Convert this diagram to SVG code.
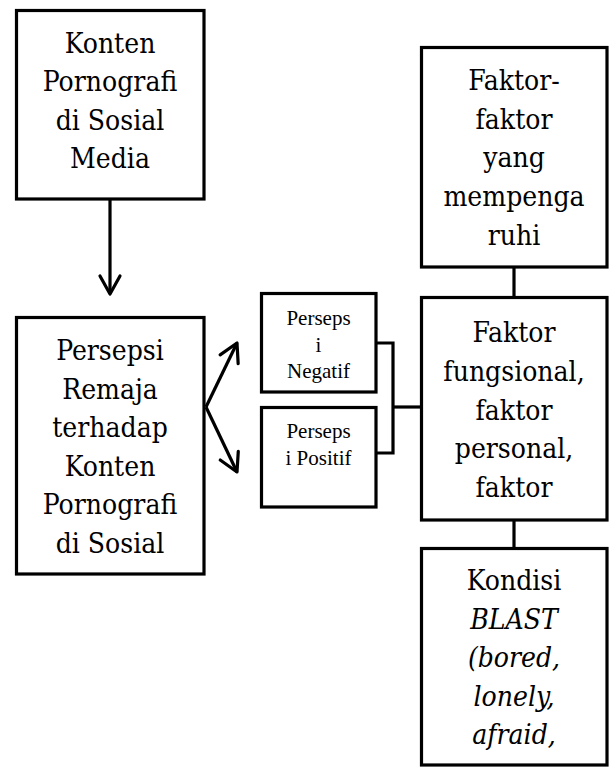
<svg xmlns="http://www.w3.org/2000/svg" width="611" height="767" viewBox="0 0 611 767">
<style>
.box{fill:#fff;stroke:#000;stroke-width:3.2}
.big{font-family:'DejaVu Serif Condensed','DejaVu Serif','Liberation Serif',serif;font-stretch:condensed;font-size:28px;fill:#000;text-anchor:middle}
.sm{font-family:'Liberation Serif',serif;font-size:21px;fill:#000;text-anchor:middle}
.it{font-style:italic}
.c{fill:none;stroke:#000;stroke-width:3.2}
</style>
<defs>
<marker id="ah" markerUnits="userSpaceOnUse" markerWidth="40" markerHeight="40" viewBox="-25 -20 40 40" refX="0" refY="0" orient="auto" overflow="visible">
<path d="M-18,-10 L0,0 L-18,10" fill="none" stroke="#000" stroke-width="3.2" stroke-linejoin="round" stroke-linecap="round"/>
</marker>
</defs>
<rect width="611" height="767" fill="#fff"/>
<g id="connectors">
<line class="c" x1="110" y1="199" x2="110" y2="294" marker-end="url(#ah)"/>
<line class="c" x1="206" y1="407" x2="237" y2="343" marker-end="url(#ah)"/>
<line class="c" x1="206" y1="407" x2="237" y2="472" marker-end="url(#ah)"/>
<path class="c" d="M376,343 H393 V453 H376"/>
<path class="c" d="M393,407 H421"/>
<path class="c" d="M514,267 V297"/>
<path class="c" d="M514,520 V548"/>
</g>
<g id="konten">
<rect class="box" x="16.5" y="10.5" width="187.5" height="188.5"/>
<text class="big" x="110" y="52.5">Konten</text>
<text class="big" x="110" y="91">Pornografi</text>
<text class="big" x="110" y="129.5">di Sosial</text>
<text class="big" x="110" y="168">Media</text>
</g>
<g id="persepsi">
<rect class="box" x="16.5" y="317.5" width="187.5" height="256.5"/>
<text class="big" x="110" y="360">Persepsi</text>
<text class="big" x="110" y="398.5">Remaja</text>
<text class="big" x="110" y="437">terhadap</text>
<text class="big" x="110" y="475.5">Konten</text>
<text class="big" x="110" y="514">Pornografi</text>
<text class="big" x="110" y="552.5">di Sosial</text>
</g>
<g id="negatif">
<rect class="box" x="261.5" y="293.5" width="114.5" height="98.5"/>
<text class="sm" x="318.5" y="325">Perseps</text>
<text class="sm" x="318.5" y="351.5">i</text>
<text class="sm" x="318.5" y="378">Negatif</text>
</g>
<g id="positif">
<rect class="box" x="261.5" y="407.5" width="114.5" height="99.5"/>
<text class="sm" x="318.5" y="438">Perseps</text>
<text class="sm" x="318.5" y="464.5">i Positif</text>
</g>
<g id="faktor-faktor">
<rect class="box" x="421.5" y="47.5" width="185.5" height="219.5"/>
<text class="big" x="514" y="90">Faktor-</text>
<text class="big" x="514" y="128.5">faktor</text>
<text class="big" x="514" y="167">yang</text>
<text class="big" x="514" y="205.5">mempenga</text>
<text class="big" x="514" y="244.5">ruhi</text>
</g>
<g id="faktor-fungsional">
<rect class="box" x="421.5" y="297.5" width="185.5" height="222.5"/>
<text class="big" x="514" y="342">Faktor</text>
<text class="big" x="514" y="381">fungsional,</text>
<text class="big" x="514" y="419.5">faktor</text>
<text class="big" x="514" y="458">personal,</text>
<text class="big" x="514" y="496.5">faktor</text>
</g>
<g id="kondisi">
<rect class="box" x="421.5" y="548.5" width="185.5" height="216.5"/>
<text class="big" x="514" y="590">Kondisi</text>
<text class="big it" x="514" y="628.5">BLAST</text>
<text class="big it" x="514" y="667">(bored,</text>
<text class="big it" x="514" y="705.5">lonely,</text>
<text class="big it" x="514" y="744">afraid,</text>
</g>
</svg>
